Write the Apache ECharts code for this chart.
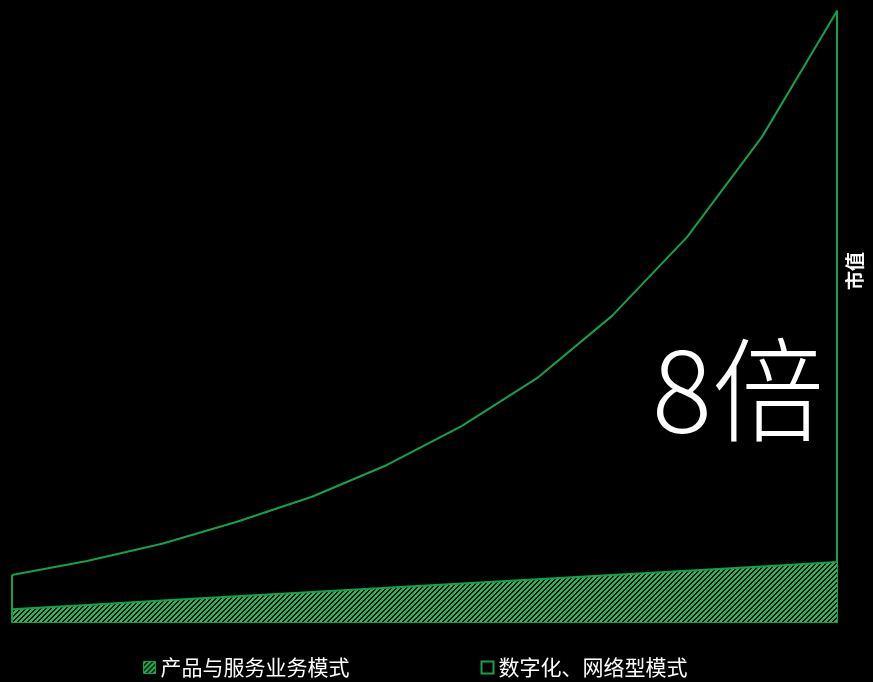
<!DOCTYPE html>
<html>
<head>
<meta charset="utf-8">
<script src="https://cdn.jsdelivr.net/npm/echarts@6/dist/echarts.min.js"></script>
<style>html,body{margin:0;padding:0;background:#000;}#c{width:873px;height:682px;}</style>
</head>
<body>
<div id="c"></div>
<script>
// Data (relative market value, last digital point = 100)
var categories = ['1','2','3','4','5','6','7','8','9','10','11','12'];
var productValues = [2.1, 2.8, 3.5, 4.2, 4.9, 5.6, 6.3, 7.0, 7.7, 8.4, 9.1, 9.8];
var digitalValues = [7.7, 10.0, 12.8, 16.4, 20.5, 25.7, 32.1, 39.9, 50.1, 63.0, 79.4, 100];
var seriesNames = ['产品与服务业务模式', '数字化、网络型模式'];
var axisName = '市值';
var bigLabel = '8倍';

var GREEN = '#13a24b';
var FONT = '"Noto Sans CJK SC", "Noto Sans", sans-serif';

// diagonal hatch pattern
var pc = document.createElement('canvas');
pc.width = 5; pc.height = 5;
var ctx = pc.getContext('2d');
var img = ctx.createImageData(5, 5);
for (var y = 0; y < 5; y++) {
  for (var x = 0; x < 5; x++) {
    var i = (y * 5 + x) * 4;
    var on = ((x + y) % 5) < 3;
    img.data[i] = on ? 0x22 : 0;
    img.data[i+1] = on ? 0xb8 : 0;
    img.data[i+2] = on ? 0x58 : 0;
    img.data[i+3] = 255;
  }
}
ctx.putImageData(img, 0, 0);
var pattern = { image: pc, repeat: 'repeat' };

var chart = echarts.init(document.getElementById('c'), null, { renderer: 'canvas' });
chart.setOption({
  backgroundColor: '#000',
  animation: false,
  grid: { left: 12, right: 36, top: 11, bottom: 60 },
  xAxis: {
    type: 'category', data: categories, boundaryGap: false,
    axisLine: { show: true, lineStyle: { color: GREEN, width: 2 } },
    axisTick: { show: false }, axisLabel: { show: false }, splitLine: { show: false }
  },
  yAxis: {
    type: 'value', min: 0, max: 100, position: 'right',
    axisLine: { show: true, lineStyle: { color: GREEN, width: 2 } },
    axisTick: { show: false }, axisLabel: { show: false }, splitLine: { show: false }
  },
  legend: {
    left: 143, top: 657, padding: 0, itemGap: 131,
    itemWidth: 12, itemHeight: 12,
    textStyle: { color: '#fff', fontSize: 21, fontFamily: FONT },
    data: [
      { name: seriesNames[0], icon: 'rect', itemStyle: { color: pattern, borderColor: GREEN, borderWidth: 1 } },
      { name: seriesNames[1], icon: 'rect', itemStyle: { color: '#000', borderColor: GREEN, borderWidth: 2 } }
    ]
  },
  series: [
    {
      name: seriesNames[1], type: 'line', data: digitalValues,
      symbol: 'none', z: 3,
      lineStyle: { color: GREEN, width: 2 },
      itemStyle: { color: GREEN },
      markLine: {
        silent: true, symbol: ['none', 'none'], label: { show: false },
        lineStyle: { color: GREEN, width: 2, type: 'solid' },
        data: [[{ coord: [categories[0], 0] }, { coord: [categories[0], digitalValues[0]] }]]
      }
    },
    {
      name: seriesNames[0], type: 'line', data: productValues,
      symbol: 'none', z: 2,
      lineStyle: { color: GREEN, width: 2 },
      itemStyle: { color: GREEN },
      areaStyle: { color: pattern, opacity: 1 }
    }
  ],
  graphic: [
    {
      type: 'text', x: 738, y: 390,
      style: { text: bigLabel, fill: '#fff', font: '300 112px ' + FONT, textAlign: 'center', textVerticalAlign: 'middle' }
    },
    {
      type: 'text', x: 855, y: 271, rotation: Math.PI / 2,
      style: { text: axisName, fill: '#fff', font: 'bold 19px ' + FONT, textAlign: 'center', textVerticalAlign: 'middle' }
    }
  ]
});
</script>
</body>
</html>
